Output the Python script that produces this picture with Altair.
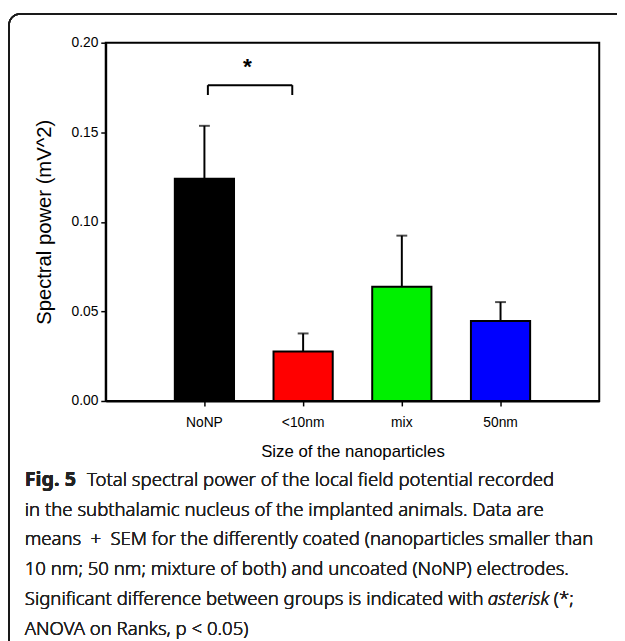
import altair as alt
import pandas as pd

groups = ["NoNP", "<10nm", "mix", "50nm"]
means = [0.124, 0.0276, 0.0638, 0.0447]
sems = [0.0296, 0.0101, 0.0285, 0.0105]
colors = ["#000000", "#ff0000", "#00f000", "#0000ff"]

y_ticks = [0.0, 0.05, 0.10, 0.15, 0.20]

bracket_from = "NoNP"
bracket_to = "<10nm"
bracket_top = 0.1763
bracket_end = 0.1708
star_level = 0.1874

caption_bold = "Fig. 5"
caption_lines = [
    "Total spectral power of the local field potential recorded",
    "in the subthalamic nucleus of the implanted animals. Data are",
    "means\u2002+\u2002SEM for the differently coated (nanoparticles smaller than",
    "10 nm; 50 nm; mixture of both) and uncoated (NoNP) electrodes.",
    "Significant difference between groups is indicated with",
    "ANOVA on Ranks, p < 0.05)",
]
caption_italic = "asterisk"
caption_tail = "(*;"

df = pd.DataFrame({
    "group": groups,
    "mean": means,
    "upper": [m + s for m, s in zip(means, sems)],
})

AX_FONT = "Liberation Sans"
CAP_FONT = "Noto Sans"
CAP_SIZE = 18.8
CAP_COLOR = "#222222"

xenc = alt.X(
    "group:N",
    sort=groups,
    scale=alt.Scale(domain=groups, paddingInner=0.4, paddingOuter=0.7),
    axis=alt.Axis(title="Size of the nanoparticles", labelAngle=0,
                  labelPadding=10, titlePadding=14, titleFontSize=17),
)
yenc = alt.Y(
    "mean:Q",
    scale=alt.Scale(domain=[0, 0.2], nice=False, zero=True),
    axis=alt.Axis(values=y_ticks, format=".2f", title="Spectral power (mV^2)",
                  grid=False, labelPadding=3, titlePadding=17, titleFontSize=20.5),
)

base = alt.Chart(df)

frame = base.mark_rect(fillOpacity=0, stroke="#1a1a1a", strokeWidth=1.5,
                       cornerRadius=11).encode(
    x=alt.value(-98), x2=alt.value(700), y=alt.value(-29), y2=alt.value(700)
)

bars = base.mark_bar(stroke="black", strokeWidth=2).encode(
    x=xenc,
    y=yenc,
    color=alt.Color("group:N", scale=alt.Scale(domain=groups, range=colors), legend=None),
)

err = base.mark_rule(color="black", strokeWidth=2).encode(
    x=alt.X("group:N", sort=groups), y="mean:Q", y2="upper:Q"
)
cap = base.mark_tick(color="black", thickness=2, size=11).encode(
    x=alt.X("group:N", sort=groups), y="upper:Q"
)

bdf = pd.DataFrame({"a": [bracket_from], "b": [bracket_to],
                    "top": [bracket_top], "end": [bracket_end], "star": [star_level]})
bbase = alt.Chart(bdf)
br_h = bbase.mark_rule(color="black", strokeWidth=2, xOffset=3.5, x2Offset=-11).encode(
    x=alt.X("a:N"), x2="b:N", y="top:Q"
)
br_l = bbase.mark_rule(color="black", strokeWidth=2, xOffset=3.5).encode(
    x=alt.X("a:N"), y="end:Q", y2="top:Q"
)
br_r = bbase.mark_rule(color="black", strokeWidth=2, xOffset=-11).encode(
    x=alt.X("b:N"), y="end:Q", y2="top:Q"
)
star = bbase.mark_text(text="*", font=AX_FONT, fontSize=23, fontWeight="bold",
                       baseline="middle", dx=43.5, dy=2, color="black").encode(
    x=alt.X("a:N"), y="star:Q"
)

cap_x = -82
cap_y0 = 449
cap_dy = 30.2
texts = []
texts.append(alt.Chart(df).mark_text(text=caption_bold, font=CAP_FONT, fontSize=20,
                                     fontWeight="bold", align="left", baseline="alphabetic",
                                     color=CAP_COLOR).encode(
    x=alt.value(cap_x), y=alt.value(cap_y0)))
for i, line in enumerate(caption_lines):
    xx = -19 if i == 0 else cap_x
    texts.append(alt.Chart(df).mark_text(text=line, font=CAP_FONT, fontSize=CAP_SIZE,
                                         fontWeight=300, align="left", baseline="alphabetic",
                                         color=CAP_COLOR).encode(
        x=alt.value(xx), y=alt.value(cap_y0 + i * cap_dy)))
texts.append(alt.Chart(df).mark_text(text=caption_italic, font=CAP_FONT, fontSize=CAP_SIZE,
                                     fontWeight=300, fontStyle="italic", align="left",
                                     baseline="alphabetic", color=CAP_COLOR).encode(
    x=alt.value(387), y=alt.value(cap_y0 + 4 * cap_dy)))
texts.append(alt.Chart(df).mark_text(text=caption_tail, font=CAP_FONT, fontSize=CAP_SIZE,
                                     fontWeight=300, align="left", baseline="alphabetic",
                                     color=CAP_COLOR).encode(
    x=alt.value(454), y=alt.value(cap_y0 + 4 * cap_dy)))

chart = alt.layer(frame, bars, err, cap, br_h, br_l, br_r, star, *texts).properties(
    width=500, height=363,
    autosize=alt.AutoSizeParams(type="none"),
    padding={"left": 99, "top": 31, "right": 18, "bottom": 239},
    background="white",
).configure_view(stroke="black", strokeWidth=2).configure_axis(
    domainColor="black", domainWidth=2, tickColor="black", tickWidth=1.5, tickSize=5,
    labelFont=AX_FONT, labelFontSize=14, labelColor="black",
    titleFont=AX_FONT, titleFontWeight="normal", titleColor="black",
)

chart.save("out.html", embed_options={"renderer": "svg", "actions": False})
